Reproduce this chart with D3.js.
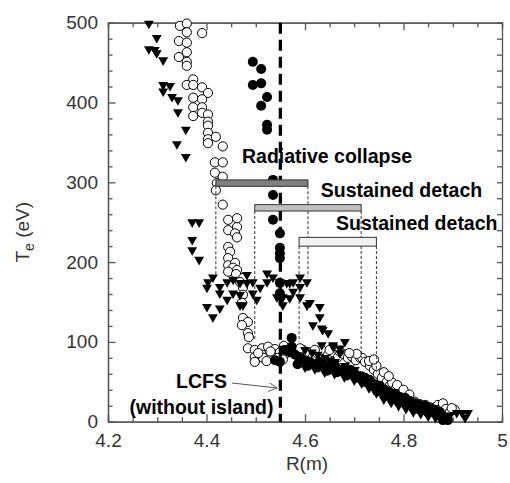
<!DOCTYPE html>
<html>
<head>
<meta charset="utf-8">
<script src="https://cdn.jsdelivr.net/npm/d3@7"></script>
<style>
  body { margin: 0; background: #fff; }
  svg { font-family: Arial, "Liberation Sans", sans-serif; }
  .tick text { fill: #333; font-size: 19px; }
  .axis path, .axis line { stroke: #555; stroke-width: 1.3; }
  .barLabel { font-weight: bold; font-size: 19.5px; fill: #000; }
</style>
</head>
<body>
<div id="chart"></div>
<script>
// open circles [R (m), Te (eV)]
const openCircles = [
  [4.346,496],[4.360,499],[4.360,488],[4.391,487],[4.344,477],[4.360,475],[4.344,457],[4.360,463],
  [4.360,451],[4.360,446],[4.373,429],[4.360,422],[4.373,422],[4.391,419],[4.403,412],[4.373,406],
  [4.391,404],[4.373,394],[4.391,394],[4.373,383],[4.391,387],[4.403,385],[4.403,376],[4.403,371],
  [4.403,362],[4.403,354],[4.419,357],[4.403,349],[4.433,345],[4.417,325],[4.433,325],[4.417,312],
  [4.433,307],[4.421,299],[4.419,290],[4.433,272],[4.444,253],[4.462,244],[4.462,255],[4.444,240],
  [4.458,236],[4.462,231],[4.444,219],[4.448,213],[4.444,205],[4.444,196],[4.458,199],[4.454,193],
  [4.462,190],[4.444,188],[4.460,185],[4.474,180],[4.468,175],[4.474,168],[4.474,159],[4.472,149],
  [4.474,130],[4.484,125],[4.472,121],[4.484,111],[4.486,106],[4.484,92],[4.498,90],[4.498,81],
  [4.498,75],[4.513,92],[4.513,84],[4.525,94],[4.525,82],[4.539,91],[4.539,84],[4.549,87],
  [4.557,95],[4.565,90],[4.576,87],[4.586,84],[4.596,90],[4.606,86],[4.616,81],[4.626,85],
  [4.634,90],[4.647,84],[4.657,87],[4.667,81],[4.677,85],[4.687,80],[4.695,82],[4.703,77],
  [4.712,80],[4.716,80],[4.722,75],[4.732,70],[4.740,65],[4.748,60],[4.756,55],[4.766,50],
  [4.772,45],[4.777,49],[4.783,40],[4.793,36],[4.803,31],[4.813,27],[4.823,25],[4.833,22],
  [4.844,21],[4.854,18],[4.864,17],[4.870,21],[4.874,15],[4.880,23],[4.886,16],[4.894,12],
  [4.904,15],[4.898,17],
  [4.730,76],[4.745,70],[4.760,62],[4.770,57],[4.787,46],[4.800,40],[4.812,34],[4.740,78],
  [4.705,85],[4.690,86],[4.670,88],[4.650,90],[4.620,90],[4.590,92],[4.560,85],[4.545,80],
  [4.530,88],[4.515,80],[4.505,86],[4.522,76],[4.555,78]
];

// filled down-triangles
const triangles = [
  [4.283,499],[4.299,481],[4.283,467],[4.295,466],[4.299,462],[4.312,453],[4.312,422],[4.326,421],
  [4.312,414],[4.330,407],[4.342,403],[4.342,388],[4.358,366],[4.340,348],[4.358,332],
  [4.371,250],[4.385,250],[4.371,228],[4.371,215],[4.385,203],
  [4.413,181],[4.403,175],[4.401,168],[4.427,169],[4.442,175],[4.454,178],[4.468,174],[4.482,184],
  [4.427,161],[4.442,153],[4.468,159],[4.401,144],[4.427,142],[4.413,131],[4.468,146],[4.494,175],
  [4.482,174],[4.454,161],[4.494,161],[4.509,168],[4.523,175],[4.535,181],[4.549,175],[4.563,174],
  [4.576,175],[4.590,181],[4.604,175],[4.543,156],[4.555,156],[4.569,155],[4.590,156],[4.474,146],
  [4.502,153],[4.523,186],[4.569,174],[4.590,169],[4.549,156],[4.555,146],[4.576,163],[4.604,146],
  [4.610,149],[4.630,144],[4.630,131],[4.616,121],[4.634,117],[4.636,115],[4.647,111],[4.657,94],
  [4.671,86],[4.600,90],[4.614,87],[4.626,84],[4.641,80],[4.651,77],[4.661,75],[4.681,70],
  [4.691,67],[4.701,65],[4.712,59],[4.718,52],[4.726,55],[4.732,46],[4.740,40],[4.748,42],
  [4.756,36],[4.764,32],[4.772,30],[4.783,27],[4.793,25],[4.803,22],[4.813,20],[4.823,17],
  [4.833,15],[4.844,13],[4.854,11],[4.864,10],[4.874,8],[4.884,7],[4.894,8],[4.908,11],
  [4.919,11],[4.931,11],[4.925,5],[4.681,100],[4.671,92],[4.634,96],[4.657,96],
  [4.600,68],[4.620,66],[4.640,62],[4.660,60],[4.680,56],[4.700,52],[4.715,48],[4.730,42],
  [4.745,36],[4.760,28],[4.775,24],[4.790,20],[4.805,16],[4.820,12],[4.835,10],[4.850,7],
  [4.865,5],[4.880,3]
];

// filled circles
const filledCircles = [
  [4.494,451],[4.511,442],[4.494,422],[4.511,424],[4.523,407],[4.511,396],[4.523,372],[4.523,366],
  [4.535,303],[4.535,284],[4.535,253],[4.549,236],[4.549,218],[4.549,211],[4.549,205],[4.549,174],
  [4.549,161],[4.573,105],[4.573,94],[4.539,77],[4.549,75],
  [4.559,90],[4.569,87],[4.580,84],[4.590,80],[4.600,77],[4.610,75],[4.620,72],[4.630,75],
  [4.641,70],[4.651,67],[4.661,70],[4.671,65],[4.681,62],[4.691,65],[4.701,60],[4.712,57],
  [4.722,55],[4.732,52],[4.742,47],[4.752,45],[4.762,40],[4.772,37],[4.783,35],[4.793,31],
  [4.803,30],[4.813,26],[4.823,23],[4.833,21],[4.844,20],[4.854,17],[4.864,15],[4.874,12],
  [4.884,5],[4.890,2],[4.880,2],
  [4.585,72],[4.605,70],[4.625,68],[4.645,64],[4.665,62],[4.685,58],[4.705,55],[4.720,50],
  [4.738,44],[4.752,38],[4.768,33],[4.785,28],[4.800,24],[4.815,20],[4.830,16],[4.845,14],
  [4.860,12],[4.870,9]
];

// bars: label, R start, R end, Te low, Te high, fill
const barNames = ['Radiative collapse', 'Sustained detach', 'Sustained detach'];
const barStart = [4.419, 4.498, 4.588];
const barEnd = [4.606, 4.714, 4.745];
const barLow = [295, 264, 220];
const barHigh = [303, 272, 231];
const barFill = ['#808080', '#c0c0c0', '#f2f2f2'];
// bottom of the thin dashed drop lines [left, right] per bar
const dropLeft = [183, 102, 100];
const dropRight = [181, 80, 62];
// label anchor (R, Te)
const labelR = [4.472, 4.632, 4.663];
const labelTe = [324, 282, 240];

const lcfsR = 4.55;

const xTicks = [4.2, 4.4, 4.6, 4.8, 5];
const yTicks = [0, 100, 200, 300, 400, 500];

const margin = {top: 22.7, right: 8, bottom: 61.3, left: 108};
const width = 510 - margin.left - margin.right;
const height = 483 - margin.top - margin.bottom;

const svg = d3.select('#chart').append('svg')
    .attr('width', 510)
    .attr('height', 483)
  .append('g')
    .attr('transform', 'translate(' + margin.left + ',' + margin.top + ')');

const x = d3.scaleLinear().domain([4.2, 5]).range([0, width]);
const y = d3.scaleLinear().domain([0, 500]).range([height, 0]);

const xMinor = d3.range(4.2, 5.001, 0.05).filter(v => Math.abs(v * 5 - Math.round(v * 5)) > 1e-6);
const yMinor = d3.range(0, 501, 20).filter(v => v % 100 !== 0);

// minor ticks (inside)
svg.append('g').attr('class', 'axis').attr('transform', 'translate(0,' + height + ')')
    .call(d3.axisBottom(x).tickValues(xMinor).tickSize(-4.5).tickFormat(''));
svg.append('g').attr('class', 'axis')
    .call(d3.axisTop(x).tickValues(xMinor).tickSize(-4.5).tickFormat(''));
svg.append('g').attr('class', 'axis')
    .call(d3.axisLeft(y).tickValues(yMinor).tickSize(-4.5).tickFormat(''));
svg.append('g').attr('class', 'axis').attr('transform', 'translate(' + width + ',0)')
    .call(d3.axisRight(y).tickValues(d3.range(0, 501, 20)).tickSize(-5).tickFormat(''));

// major ticks
svg.append('g').attr('class', 'axis').attr('transform', 'translate(0,' + height + ')')
    .call(d3.axisBottom(x).tickValues(xTicks).tickSizeInner(-7.5).tickSizeOuter(0).tickPadding(12)
        .tickFormat(d => d === 5 ? '5' : d3.format('.1f')(d)));
svg.append('g').attr('class', 'axis')
    .call(d3.axisTop(x).tickValues(xTicks).tickSizeInner(-7.5).tickSizeOuter(0).tickFormat(''));
svg.append('g').attr('class', 'axis')
    .call(d3.axisLeft(y).tickValues(yTicks).tickSizeInner(-7.5).tickSizeOuter(0).tickPadding(10));

// data
svg.append('g').selectAll('circle.open')
    .data(openCircles).enter().append('circle')
    .attr('cx', d => x(d[0]))
    .attr('cy', d => y(d[1]))
    .attr('r', 4.6)
    .attr('fill', '#fff')
    .attr('stroke', '#000')
    .attr('stroke-width', 1);

const tri = d3.symbol().type(d3.symbolTriangle).size(42);
svg.append('g').selectAll('path.tri')
    .data(triangles).enter().append('path')
    .attr('d', tri)
    .attr('transform', d => 'translate(' + x(d[0]) + ',' + y(d[1]) + ') rotate(180)')
    .attr('fill', '#000');

svg.append('g').selectAll('circle.fill')
    .data(filledCircles).enter().append('circle')
    .attr('cx', d => x(d[0]))
    .attr('cy', d => y(d[1]))
    .attr('r', 5)
    .attr('fill', '#000');

// LCFS line
svg.append('line')
    .attr('x1', x(lcfsR)).attr('x2', x(lcfsR))
    .attr('y1', y(500)).attr('y2', y(0))
    .attr('stroke', '#000')
    .attr('stroke-width', 3.3)
    .attr('stroke-dasharray', '11,6');

// thin dashed drop lines
barNames.forEach((n, i) => {
    svg.append('line')
        .attr('x1', x(barStart[i])).attr('x2', x(barStart[i]))
        .attr('y1', y(barLow[i])).attr('y2', y(dropLeft[i]))
        .attr('stroke', '#333').attr('stroke-width', 1).attr('stroke-dasharray', '3,2');
    svg.append('line')
        .attr('x1', x(barEnd[i])).attr('x2', x(barEnd[i]))
        .attr('y1', y(barLow[i])).attr('y2', y(dropRight[i]))
        .attr('stroke', '#333').attr('stroke-width', 1).attr('stroke-dasharray', '3,2');
});

// bars
svg.append('g').selectAll('rect')
    .data(barNames).enter().append('rect')
    .attr('x', (d, i) => x(barStart[i]))
    .attr('y', (d, i) => y(barHigh[i]))
    .attr('width', (d, i) => x(barEnd[i]) - x(barStart[i]))
    .attr('height', (d, i) => y(barLow[i]) - y(barHigh[i]))
    .attr('fill', (d, i) => barFill[i])
    .attr('stroke', '#333')
    .attr('stroke-width', 1);

svg.append('g').selectAll('text')
    .data(barNames).enter().append('text')
    .attr('class', 'barLabel')
    .attr('x', (d, i) => x(labelR[i]))
    .attr('y', (d, i) => y(labelTe[i]))
    .text(d => d);

// LCFS label + arrow
svg.append('defs').append('marker')
    .attr('id', 'arr').attr('viewBox', '0 0 10 10').attr('refX', 10).attr('refY', 5)
    .attr('markerWidth', 9).attr('markerHeight', 9).attr('orient', 'auto')
    .attr('markerUnits', 'userSpaceOnUse')
  .append('path').attr('d', 'M0,0 L10,5 L0,10').attr('fill', 'none').attr('stroke', '#555');
svg.append('text').attr('class', 'barLabel')
    .attr('x', 93.5).attr('y', 365.3).attr('text-anchor', 'middle').text('LCFS');
svg.append('text').attr('class', 'barLabel')
    .attr('x', 93.5).attr('y', 391.3).attr('text-anchor', 'middle').text('(without island)');
svg.append('line')
    .attr('x1', 124).attr('y1', 360.3).attr('x2', x(lcfsR) - 3).attr('y2', 365.3)
    .attr('stroke', '#555').attr('stroke-width', 1)
    .attr('marker-end', 'url(#arr)');

// axis labels
svg.append('text')
    .attr('x', width / 2 + 2).attr('y', height + 48)
    .attr('text-anchor', 'middle')
    .style('font-size', '19px').attr('fill', '#333')
    .text('R(m)');
const yl = svg.append('text')
    .attr('transform', 'translate(-79,' + (height / 2 + 10) + ') rotate(-90)')
    .attr('text-anchor', 'middle')
    .style('font-size', '19px').attr('fill', '#333');
yl.append('tspan').text('T');
yl.append('tspan').attr('dy', 5).style('font-size', '14px').text('e');
yl.append('tspan').attr('dy', -5).text(' (eV)');
</script>
</body>
</html>
